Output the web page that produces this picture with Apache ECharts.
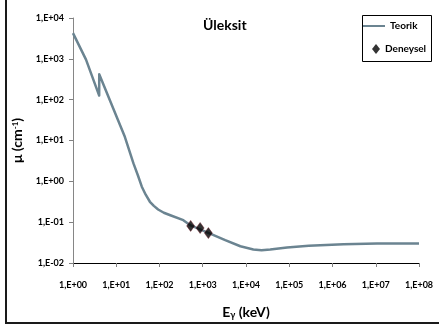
<!DOCTYPE html>
<html><head><meta charset="utf-8">
<script src="https://cdn.jsdelivr.net/npm/echarts@6/dist/echarts.min.js"></script>
<style>html,body{margin:0;padding:0;background:#fff}#c{width:439px;height:328px}</style>
</head><body><div id="c"></div>
<script>
// Theoretical curve (Teorik): photon energy (keV) and linear attenuation coefficient (cm^-1)
const teorikEnergy = [1, 2, 4.03, 4.04, 11.2, 15.8, 25, 31.6, 39, 48, 60, 74, 93, 126, 178, 355, 525, 1480, 3310, 7400, 14800, 22900, 36300, 89000, 282000, 1800000, 10700000, 100000000];
const teorikMu = [4270, 955, 126, 417, 30, 12.3, 2.75, 1.41, 0.74, 0.47, 0.316, 0.251, 0.204, 0.17, 0.148, 0.112, 0.083, 0.0525, 0.0363, 0.0257, 0.0214, 0.0205, 0.0214, 0.024, 0.0263, 0.0288, 0.0302, 0.0302];
// Experimental points (Deneysel)
const deneyselEnergy = [525, 870, 1350];
const deneyselMu = [0.081, 0.072, 0.054];
// Tick labels
const xTickLabels = ['1,E+00','1,E+01','1,E+02','1,E+03','1,E+04','1,E+05','1,E+06','1,E+07','1,E+08'];
const yTickLabels = ['1,E-02','1,E-01','1,E+00','1,E+01','1,E+02','1,E+03','1,E+04'];

const FONT = 'Lato';
const LINE_COLOR = '#6b8491';
const chart = echarts.init(document.getElementById('c'), null, {renderer: 'canvas'});
const lineData = teorikEnergy.map((e, i) => [e, teorikMu[i]]);
const pointData = deneyselEnergy.map((e, i) => [e, deneyselMu[i]]);
const legendText = {fontFamily: FONT, fontSize: 10, fontWeight: 'bold', color: '#000'};

chart.setOption({
  animation: false,
  backgroundColor: '#fff',
  title: {
    text: 'Üleksit', left: 203, top: 18, padding: 0,
    textStyle: {fontFamily: FONT, fontSize: 14, fontWeight: 'bold', color: '#000'}
  },
  legend: [
    {
      orient: 'vertical', left: 363, top: 21, padding: 0,
      itemWidth: 22, itemHeight: 2, icon: 'rect',
      textStyle: legendText,
      data: ['Teorik']
    },
    {
      orient: 'vertical', left: 372, top: 44, padding: 0,
      itemWidth: 8, itemHeight: 10, icon: 'diamond',
      itemStyle: {color: '#000', borderColor: '#000', borderWidth: 0},
      textStyle: legendText,
      data: ['Deneysel']
    }
  ],
  grid: {left: 73, right: 20, top: 18, bottom: 65},
  xAxis: {
    type: 'log', logBase: 10, min: 1, max: 1e8, splitNumber: 8,
    name: '{n|E}{s|γ}{n| (keV)}', nameLocation: 'middle', nameGap: 42,
    nameTextStyle: {rich: {
      n: {fontFamily: FONT, fontSize: 14, fontWeight: 'bold', color: '#000'},
      s: {fontFamily: FONT, fontSize: 9, fontWeight: 'bold', color: '#000', verticalAlign: 'bottom', padding: [6, 0, 0, 0]}
    }},
    axisLine: {lineStyle: {color: '#000', width: 1}},
    axisTick: {show: true, inside: false, length: 4, lineStyle: {color: '#808080'}},
    axisLabel: {
      margin: 18, fontFamily: FONT, fontSize: 9, fontWeight: 'bold', color: '#000',
      formatter: v => xTickLabels[Math.round(Math.log10(v))]
    },
    splitLine: {show: false}, minorTick: {show: false}
  },
  yAxis: {
    type: 'log', logBase: 10, min: 0.01, max: 10000, splitNumber: 6,
    name: '{n|μ (cm}{s|-1}{n|)}', nameLocation: 'middle', nameGap: 44, nameRotate: 90,
    nameTextStyle: {rich: {
      n: {fontFamily: FONT, fontSize: 14, fontWeight: 'bold', color: '#000'},
      s: {fontFamily: FONT, fontSize: 8, fontWeight: 'bold', color: '#000', verticalAlign: 'top', padding: [0, 0, 6, 0]}
    }},
    axisLine: {show: true, lineStyle: {color: '#868686', width: 1}},
    axisTick: {show: true, inside: false, length: 4, lineStyle: {color: '#808080'}},
    axisLabel: {
      margin: 9, fontFamily: FONT, fontSize: 9, fontWeight: 'bold', color: '#000',
      formatter: v => yTickLabels[Math.round(Math.log10(v)) + 2]
    },
    splitLine: {show: false}, minorTick: {show: false}
  },
  series: [
    {
      name: 'Teorik', type: 'line', data: lineData,
      symbol: 'none', smooth: false,
      lineStyle: {color: LINE_COLOR, width: 2.5, join: 'round'},
      itemStyle: {color: LINE_COLOR}, z: 2
    },
    {
      name: 'Deneysel', type: 'scatter', data: pointData,
      symbol: 'diamond', symbolSize: [8, 11],
      itemStyle: {color: '#000', borderColor: '#6a0a1a', borderWidth: 0.5},
      z: 3
    }
  ],
  graphic: [
    {
      type: 'polyline', silent: true,
      shape: {points: [[6, 0], [6, 323], [439, 323]]},
      style: {stroke: '#1a1a1a', lineWidth: 2, fill: null}
    },
    {
      type: 'rect', silent: true,
      shape: {x: 362.5, y: 15.5, width: 69, height: 46},
      style: {stroke: '#000', lineWidth: 1, fill: null}
    }
  ]
});
</script></body></html>
